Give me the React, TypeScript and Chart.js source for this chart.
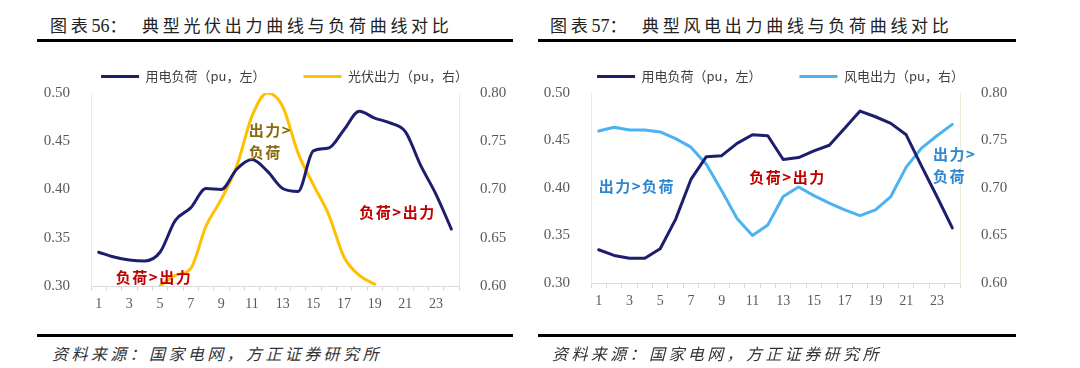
import React, { useEffect, useRef } from "react";
import { Chart, registerables } from "chart.js";

Chart.register(...registerables);

// ---------- data ----------
const HOURS = ["1", "2", "3", "4", "5", "6", "7", "8", "9", "10", "11", "12", "13", "14", "15", "16", "17", "18", "19", "20", "21", "22", "23", "24"];

const LEFT_TICKS_MIN = 0.3;
const LEFT_TICKS_MAX = 0.5;
const RIGHT_TICKS_MIN = 0.6;
const RIGHT_TICKS_MAX = 0.8;

// Chart 56 : PV
const pvLoad = [0.335, 0.330, 0.327, 0.326, 0.335, 0.368, 0.381, 0.401, 0.400, 0.421, 0.431, 0.419, 0.401, 0.398, 0.440, 0.443, 0.462, 0.481, 0.474, 0.469, 0.460, 0.425, 0.395, 0.359];
const pvOutput = [null, null, null, null, 0.600, 0.611, 0.618, 0.662, 0.690, 0.724, 0.776, 0.800, 0.786, 0.738, 0.705, 0.674, 0.630, 0.611, 0.602, null, null, null, null, null];

// Chart 57 : wind
const windLoad = [0.335, 0.329, 0.326, 0.326, 0.336, 0.367, 0.409, 0.433, 0.434, 0.447, 0.456, 0.455, 0.430, 0.432, 0.439, 0.445, 0.463, 0.481, 0.475, 0.468, 0.456, 0.423, 0.391, 0.358];
const windOutput = [0.760, 0.764, 0.761, 0.761, 0.759, 0.752, 0.743, 0.725, 0.697, 0.668, 0.650, 0.661, 0.691, 0.701, 0.692, 0.684, 0.677, 0.671, 0.677, 0.691, 0.722, 0.742, 0.755, 0.767];

const LABEL_LOAD = "用电负荷（pu，左）";
const LABEL_PV = "光伏出力（pu，右）";
const LABEL_WIND = "风电出力（pu，右）";

const RED = "#C00000";
const OLIVE = "#8A6A10";
const BLUE_TXT = "#2F86D0";

// text notes: category index of the left edge, left-axis value of each line
const pvNotes = [
  { lines: ["负荷>出力"], at: 1.12, vals: [0.309], color: RED },
  { lines: ["出力>", "负荷"], at: 9.78, vals: [0.4617, 0.4389], color: OLIVE },
  { lines: ["负荷>出力"], at: 17.0, vals: [0.3767], color: RED },
];
const windNotes = [
  { lines: ["出力>负荷"], at: 0.0, vals: [0.402], color: BLUE_TXT },
  { lines: ["负荷>出力"], at: 9.8, vals: [0.411], color: RED },
  { lines: ["出力>", "负荷"], at: 21.75, vals: [0.435, 0.4125], color: BLUE_TXT },
];

const NAVY = "#1E1E6E";
const YELLOW = "#FFC000";
const LIGHTBLUE = "#4DB2F2";

const CJK = '"Noto Sans CJK SC", sans-serif';
const SERIF = '"Liberation Serif", serif';

function notesPlugin(notes: any[]) {
  return {
    id: "notes",
    afterDatasetsDraw(chart: any) {
      const { ctx, scales } = chart;
      ctx.save();
      ctx.font = `bold 15px ${CJK}`;
      ctx.textAlign = "left";
      ctx.textBaseline = "middle";
      (ctx as any).letterSpacing = "1.5px";
      notes.forEach((n) => {
        ctx.fillStyle = n.color;
        n.lines.forEach((t: string, i: number) => {
          ctx.fillText(t, scales.x.getPixelForValue(n.at), scales.yL.getPixelForValue(n.vals[i]));
        });
      });
      ctx.restore();
    },
  };
}

function makeConfig(datasets: any[], notes: any[], rightWidth: number, smooth: boolean) {
  const tickFont = { family: SERIF, size: 15 };
  return {
    type: "line",
    data: {
      labels: HOURS,
      datasets: datasets.map((d) => ({
        label: d.label,
        data: d.data,
        borderColor: d.color,
        backgroundColor: d.color,
        borderWidth: 3,
        pointRadius: 0,
        pointHoverRadius: 0,
        fill: false,
        yAxisID: d.axis,
        tension: smooth ? 0.4 : 0,
        cubicInterpolationMode: smooth ? "monotone" : "default",
        borderCapStyle: "round",
        borderJoinStyle: "round",
      })),
    },
    options: {
      responsive: false,
      animation: false,
      events: [],
      layout: { padding: 0 },
      plugins: {
        legend: {
          position: "top",
          labels: {
            usePointStyle: true,
            pointStyle: "line",
            pointStyleWidth: 38,
            padding: 38,
            color: "#404040",
            font: { family: CJK, size: 13 },
          },
        },
        tooltip: { enabled: false },
      },
      scales: {
        x: {
          offset: true,
          grid: { display: true, drawOnChartArea: false, drawTicks: true, tickLength: 5, offset: true, color: "#d9d9d9" },
          border: { display: true, color: "#d9d9d9" },
          ticks: {
            autoSkip: false,
            maxRotation: 0,
            padding: 5,
            color: "#595959",
            font: { family: SERIF, size: 14 },
            callback: (_v: any, i: number) => (i % 2 === 0 ? HOURS[i] : ""),
          },
          afterFit: (s: any) => {
            s.height = 34;
          },
        },
        yL: {
          position: "left",
          min: LEFT_TICKS_MIN,
          max: LEFT_TICKS_MAX,
          grid: { display: false },
          border: { display: true, color: "#ebebdc" },
          ticks: { stepSize: 0.05, padding: 13, color: "#595959", font: tickFont, callback: (v: any) => Number(v).toFixed(2) },
          afterFit: (s: any) => {
            s.width = 61;
          },
        },
        yR: {
          position: "right",
          min: RIGHT_TICKS_MIN,
          max: RIGHT_TICKS_MAX,
          grid: { display: false },
          border: { display: true, color: "#ebebdc" },
          ticks: { stepSize: 0.05, padding: 13, color: "#595959", font: tickFont, callback: (v: any) => Number(v).toFixed(2) },
          afterFit: (s: any) => {
            s.width = rightWidth;
          },
        },
      },
    },
    plugins: [notesPlugin(notes)],
  };
}

function ChartCanvas(props: { config: any; left: number; top: number; width: number; height: number }) {
  const ref = useRef<HTMLCanvasElement | null>(null);
  useEffect(() => {
    if (!ref.current) return;
    const chart = new Chart(ref.current, props.config);
    return () => chart.destroy();
  }, []);
  return (
    <canvas
      ref={ref}
      width={props.width}
      height={props.height}
      style={{ position: "absolute", left: props.left, top: props.top, width: props.width, height: props.height }}
    />
  );
}

const titleStyle = (left: number): React.CSSProperties => ({
  position: "absolute",
  left,
  top: 18,
  fontFamily: `"Liberation Serif", "Noto Sans CJK SC", serif`,
  fontSize: 17,
  lineHeight: "17px",
  letterSpacing: "3.7px",
  color: "#222",
  whiteSpace: "nowrap",
});

const sourceStyle = (left: number): React.CSSProperties => ({
  position: "absolute",
  left,
  top: 345,
  fontFamily: CJK,
  fontStyle: "italic",
  fontSize: 16,
  lineHeight: "16px",
  letterSpacing: "3.4px",
  color: "#333",
  whiteSpace: "nowrap",
});

const rule = (left: number, top: number, width: number): React.CSSProperties => ({
  position: "absolute",
  left,
  top,
  width,
  height: 3,
  background: "#000",
});

function FigNo(props: { left: number; num: string }) {
  return (
    <div style={titleStyle(props.left)}>
      图表<span style={{ letterSpacing: 0, fontSize: 18 }}>{props.num}</span>：
    </div>
  );
}

export default function App() {
  const pvConfig = makeConfig(
    [
      { label: LABEL_LOAD, data: pvLoad, color: NAVY, axis: "yL" },
      { label: LABEL_PV, data: pvOutput, color: YELLOW, axis: "yR" },
    ],
    pvNotes,
    80,
    true
  );
  const windConfig = makeConfig(
    [
      { label: LABEL_LOAD, data: windLoad, color: NAVY, axis: "yL" },
      { label: LABEL_WIND, data: windOutput, color: LIGHTBLUE, axis: "yR" },
    ],
    windNotes,
    71,
    false
  );
  return (
    <div style={{ position: "absolute", left: 0, top: 0, width: 1080, height: 368, background: "#fff", overflow: "hidden" }}>
      <FigNo left={50} num="56" />
      <div style={titleStyle(142)}>典型光伏出力曲线与负荷曲线对比</div>
      <FigNo left={550} num="57" />
      <div style={titleStyle(642)}>典型风电出力曲线与负荷曲线对比</div>
      <div style={rule(37, 39, 476)} />
      <div style={rule(538, 39, 478)} />

      <ChartCanvas config={pvConfig} left={30} top={32} width={509} height={288} />
      <ChartCanvas config={windConfig} left={530} top={32} width={501} height={285} />

      <div style={rule(37, 334, 476)} />
      <div style={rule(538, 334, 478)} />
      <div style={sourceStyle(52)}>资料来源：国家电网，方正证券研究所</div>
      <div style={sourceStyle(552)}>资料来源：国家电网，方正证券研究所</div>
    </div>
  );
}
